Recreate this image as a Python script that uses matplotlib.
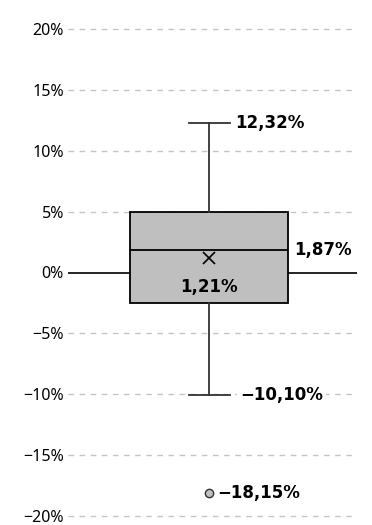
import matplotlib
matplotlib.use("Agg")
import matplotlib.pyplot as plt

# Data
q1 = -2.5
q3 = 5.0
median = 1.87
mean = 1.21
whisker_high = 12.32
whisker_low = -10.10
outliers = [-18.15]
yticks = [20, 15, 10, 5, 0, -5, -10, -15, -20]

def fmt(v):
    s = f"{abs(v):.2f}".replace(".", ",") + "%"
    return ("\u2212" if v < 0 else "") + s

plt.rcParams['font.family'] = ['Noto Sans', 'DejaVu Sans']

fig = plt.figure(figsize=(3.72, 5.25), dpi=100)
ax = fig.add_axes([68/372, (525-516)/525, (357-68)/372, (516-29)/525])

ax.set_ylim(-20, 20)
ax.set_xlim(-0.488, 0.512)

for t in yticks:
    if t != 0:
        ax.axhline(t, color='#c4c4c4', lw=1.0, ls=(0, (4, 4)), zorder=0, clip_on=False)
ax.axhline(0, color='black', lw=1.2, zorder=1)

stats = [dict(med=median, q1=q1, q3=q3, whislo=whisker_low, whishi=whisker_high,
              mean=mean, fliers=outliers)]
ax.bxp(stats, positions=[0], widths=0.547, patch_artist=True, showmeans=True,
       boxprops=dict(facecolor='#bfbfbf', edgecolor='black', lw=1.3),
       medianprops=dict(color='black', lw=1.3),
       whiskerprops=dict(color='#333333', lw=1.3),
       capprops=dict(color='#333333', lw=1.3),
       capwidths=0.142,
       meanprops=dict(marker='x', markeredgecolor='black', markersize=9, markeredgewidth=1.2),
       flierprops=dict(marker='o', markerfacecolor='#bfbfbf', markeredgecolor='#333333',
                       markersize=6, markeredgewidth=1.0),
       zorder=2)

ax.set_yticks(yticks)
ax.set_yticklabels([fmt(t).replace(",00", "") for t in yticks], fontsize=11.5)
ax.tick_params(axis='y', length=0, pad=3)
ax.set_xticks([])
for s in ax.spines.values():
    s.set_visible(False)

bold = dict(fontsize=12, fontweight='bold', color='black', zorder=5,
            family=['DejaVu Sans'])
ax.text(0.092, whisker_high, fmt(whisker_high), ha='left', va='center', **bold)
ax.text(0.295, median, fmt(median), ha='left', va='center', **bold)
ax.text(0.0, mean - 2.4, fmt(mean), ha='center', va='center', **bold)
ax.text(0.107, whisker_low, fmt(whisker_low), ha='left', va='center',
        bbox=dict(facecolor='white', edgecolor='none', pad=2), **bold)
ax.text(0.03, outliers[0], fmt(outliers[0]), ha='left', va='center', **bold)

fig.savefig("out.png", dpi=100)
